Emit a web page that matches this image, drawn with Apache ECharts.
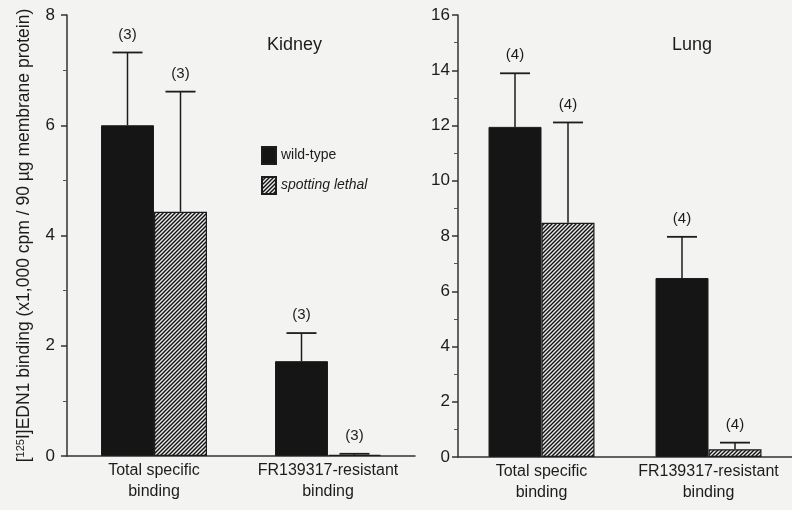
<!DOCTYPE html>
<html>
<head>
<meta charset="utf-8">
<script src="https://cdn.jsdelivr.net/npm/echarts@6/dist/echarts.min.js"></script>
<style>
html,body{margin:0;padding:0;background:#f3f3f1;}
#chart{width:792px;height:510px;}
</style>
</head>
<body>
<div id="chart"></div>
<script>
// ---- data ----
const categories = ['Total specific\nbinding', 'FR139317-resistant\nbinding'];
const seriesNames = ['wild-type', 'spotting lethal'];
const kidneyWT = [6.0, 1.72];
const kidneyWTErr = [1.32, 0.51];
const kidneySL = [4.43, 0.02];
const kidneySLErr = [2.18, 0.02];
const kidneyN = ['(3)', '(3)', '(3)', '(3)'];
const lungWT = [11.95, 6.48];
const lungWTErr = [1.94, 1.49];
const lungSL = [8.48, 0.28];
const lungSLErr = [3.63, 0.24];
const lungN = ['(4)', '(4)', '(4)', '(4)'];
const kidneyTicks = {min: 0, max: 8, interval: 2};
const lungTicks = {min: 0, max: 16, interval: 2};
const panelTitles = ['Kidney', 'Lung'];
const yAxisName = '[{sup|125}I]EDN1 binding (x1,000 cpm / 90 µg membrane protein)';

// ---- styles ----
const FONT = "'Liberation Sans Narrow', 'Arial Narrow', 'Liberation Sans', Arial, sans-serif";
const INK = '#1c1c1c';
const BAR_W = 53;

function makeHatch() {
  const c = document.createElement('canvas');
  const s = 4;
  c.width = s; c.height = s;
  const g = c.getContext('2d');
  g.fillStyle = '#e8e8e8';
  g.fillRect(0, 0, s, s);
  g.strokeStyle = '#111';
  g.lineWidth = 1.4;
  g.beginPath();
  g.moveTo(-1, s + 1); g.lineTo(s + 1, -1);
  g.moveTo(-1, 1); g.lineTo(1, -1);
  g.moveTo(s - 1, s + 1); g.lineTo(s + 1, s - 1);
  g.stroke();
  return c;
}
const hatch = makeHatch();

const chart = echarts.init(document.getElementById('chart'), null, {renderer: 'canvas'});

function errSeries(gridIdx, vals, errs, labels, offset, labelStart) {
  const data = vals.map((v, i) => [i, v, v + errs[i], labels[labelStart + i]]);
  return {
    type: 'custom',
    xAxisIndex: gridIdx, yAxisIndex: gridIdx,
    z: 5,
    silent: true,
    data: data,
    renderItem: function (params, api) {
      const top = api.coord([api.value(0), api.value(2)]);
      const base = api.coord([api.value(0), api.value(1)]);
      const x = top[0] + offset;
      const half = 15;
      return {
        type: 'group',
        children: [
          {type: 'line', shape: {x1: x, y1: base[1], x2: x, y2: top[1]}, style: {stroke: INK, lineWidth: 1.5}},
          {type: 'line', shape: {x1: x - half, y1: top[1], x2: x + half, y2: top[1]}, style: {stroke: INK, lineWidth: 1.8}},
          {type: 'text', x: x, y: top[1] - 18,
           style: {text: data[params.dataIndex][3], fill: INK, font: '15px ' + FONT, align: 'center', verticalAlign: 'middle'}}
        ]
      };
    }
  };
}

function barSeries(gridIdx, name, vals, hatched) {
  return {
    type: 'bar', name: name,
    xAxisIndex: gridIdx, yAxisIndex: gridIdx,
    barWidth: BAR_W, barGap: '0%',
    data: vals,
    itemStyle: hatched
      ? {color: {image: hatch, repeat: 'repeat'}, borderColor: INK, borderWidth: 1.2}
      : {color: '#151515', borderColor: INK, borderWidth: 1}
  };
}

function yAxisCfg(gridIdx, ticks, withName, margin) {
  const a = {
    type: 'value', gridIndex: gridIdx,
    min: ticks.min, max: ticks.max, interval: ticks.interval,
    axisLine: {show: true, lineStyle: {color: '#333', width: 1.5}},
    axisTick: {show: true, inside: false, length: 6, lineStyle: {color: '#333', width: 1.5}},
    minorTick: {show: true, splitNumber: 2, length: 4, lineStyle: {color: '#555', width: 1}},
    splitLine: {show: false},
    axisLabel: {color: INK, fontSize: 17, fontFamily: FONT, margin: margin}
  };
  if (withName) {
    a.name = yAxisName;
    a.nameLocation = 'middle';
    a.nameGap = 34;
    a.nameTextStyle = {
      color: INK, fontSize: 17.5, fontFamily: FONT,
      rich: {sup: {fontSize: 11, fontFamily: FONT, color: INK, verticalAlign: 'top', lineHeight: 11, padding: [0, 0, 8, 0]}}
    };
  }
  return a;
}

function xAxisCfg(gridIdx) {
  return {
    type: 'category', gridIndex: gridIdx, data: categories,
    axisLine: {show: true, lineStyle: {color: '#333', width: 1.5}},
    axisTick: {show: false},
    axisLabel: {interval: 0, color: INK, fontSize: 16, fontFamily: FONT, lineHeight: 21, margin: 4}
  };
}

const option = {
  backgroundColor: '#f3f3f1',
  animation: false,
  title: [
    {text: panelTitles[0], left: 262, top: 31, textStyle: {fontSize: 18, fontWeight: 'normal', fontFamily: FONT, color: INK}},
    {text: panelTitles[1], left: 667, top: 31, textStyle: {fontSize: 18, fontWeight: 'normal', fontFamily: FONT, color: INK}}
  ],
  legend: {
    data: seriesNames,
    orient: 'vertical',
    left: 256, top: 141,
    itemWidth: 14, itemHeight: 17, itemGap: 11,
    icon: 'rect',
    textStyle: {color: INK, fontSize: 14, fontFamily: FONT, rich: {i: {fontStyle: 'italic', fontSize: 14, fontFamily: FONT, color: INK}}},
    formatter: function (n) { return n === 'spotting lethal' ? '{i|' + n + '}' : n; }
  },
  grid: [
    {left: 67, top: 15, width: 348, height: 441},
    {left: 458, top: 15, width: 348, height: 442}
  ],
  xAxis: [xAxisCfg(0), xAxisCfg(1)],
  yAxis: [yAxisCfg(0, kidneyTicks, true, 12), yAxisCfg(1, lungTicks, false, 8)],
  series: [
    barSeries(0, seriesNames[0], kidneyWT, false),
    barSeries(0, seriesNames[1], kidneySL, true),
    barSeries(1, seriesNames[0], lungWT, false),
    barSeries(1, seriesNames[1], lungSL, true),
    errSeries(0, kidneyWT, kidneyWTErr, kidneyN, -BAR_W / 2, 0),
    errSeries(0, kidneySL, kidneySLErr, kidneyN, BAR_W / 2, 2),
    errSeries(1, lungWT, lungWTErr, lungN, -BAR_W / 2, 0),
    errSeries(1, lungSL, lungSLErr, lungN, BAR_W / 2, 2)
  ]
};
chart.setOption(option);
</script>
</body>
</html>
